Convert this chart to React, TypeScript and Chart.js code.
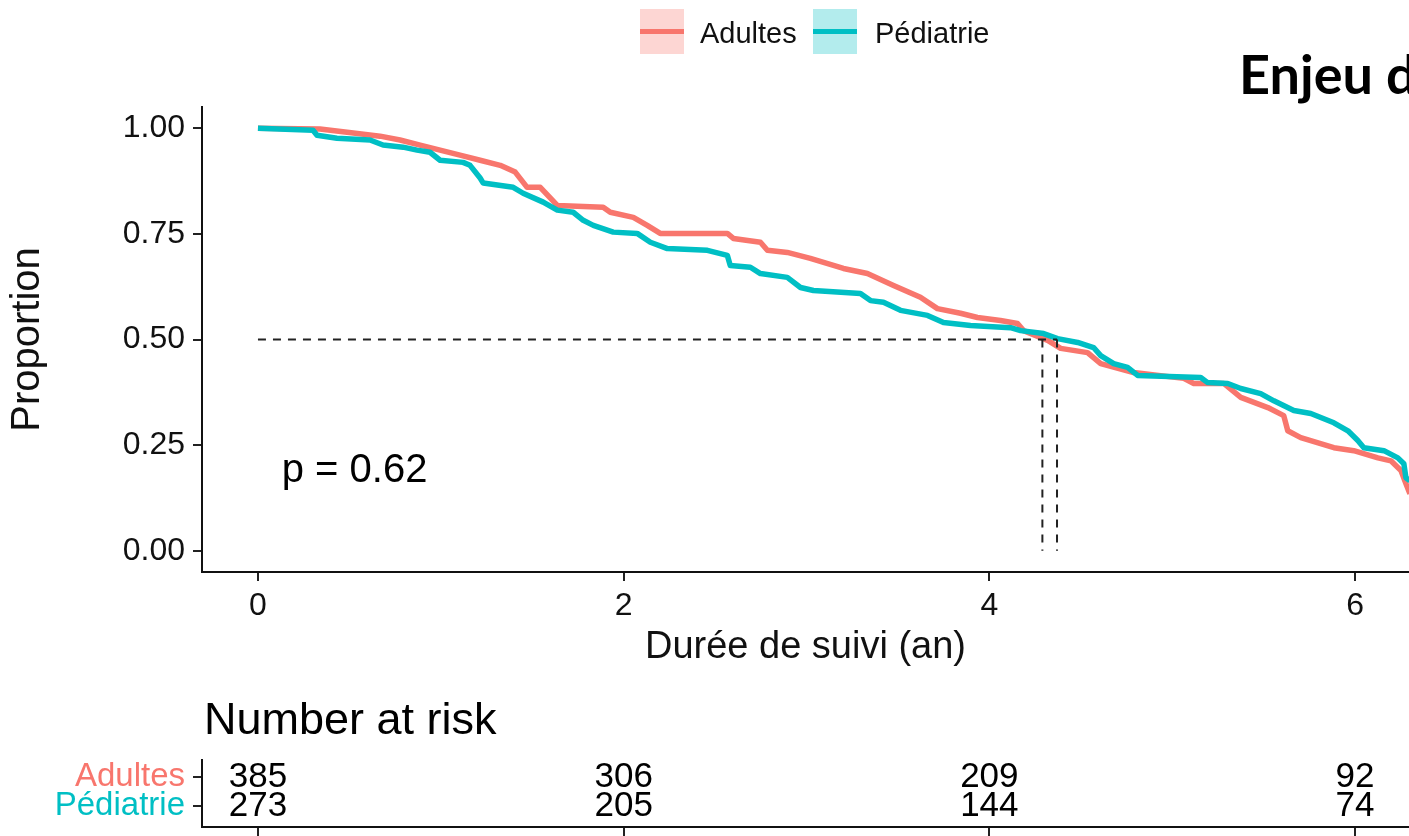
import React, { useEffect, useRef } from 'react';
import { Chart, registerables } from 'chart.js';

Chart.register(...registerables);

const FONT = '"Liberation Sans", Arial, Helvetica, sans-serif';
const RED = '#F8766D';
const TEAL = '#00BFC4';
const RED_KEY = '#FDD6D3';
const TEAL_KEY = '#B3ECED';

const groups = ['Adultes', 'Pédiatrie'];

const adultesTime = [0, 0.339, 0.476, 0.668, 0.777, 0.887, 0.996, 1.105, 1.215, 1.325, 1.407, 1.472, 1.544, 1.637, 1.888, 1.927, 2.053, 2.129, 2.2, 2.567, 2.6, 2.748, 2.786, 2.895, 3.021, 3.202, 3.333, 3.476, 3.623, 3.716, 3.842, 3.935, 4.061, 4.154, 4.187, 4.319, 4.39, 4.537, 4.609, 4.789, 5.063, 5.118, 5.282, 5.375, 5.523, 5.61, 5.632, 5.703, 5.884, 5.993, 6.125, 6.196, 6.251, 6.278, 6.3, 6.35];
const adultesSurv = [1.0, 0.998, 0.991, 0.981, 0.972, 0.96, 0.948, 0.936, 0.924, 0.912, 0.896, 0.86, 0.86, 0.817, 0.813, 0.801, 0.789, 0.77, 0.751, 0.751, 0.739, 0.73, 0.711, 0.706, 0.692, 0.668, 0.656, 0.628, 0.6, 0.573, 0.562, 0.552, 0.545, 0.538, 0.521, 0.498, 0.479, 0.469, 0.443, 0.422, 0.408, 0.396, 0.396, 0.363, 0.339, 0.32, 0.284, 0.268, 0.244, 0.237, 0.22, 0.213, 0.19, 0.159, 0.135, 0.12];

const pediatrieTime = [0, 0.301, 0.323, 0.432, 0.613, 0.684, 0.794, 0.87, 0.941, 0.996, 1.122, 1.16, 1.215, 1.232, 1.396, 1.45, 1.56, 1.637, 1.724, 1.779, 1.834, 1.943, 2.074, 2.146, 2.239, 2.458, 2.567, 2.583, 2.693, 2.748, 2.895, 2.967, 3.038, 3.295, 3.35, 3.421, 3.514, 3.662, 3.749, 3.897, 4.116, 4.171, 4.297, 4.373, 4.483, 4.57, 4.609, 4.68, 4.756, 4.811, 5.156, 5.194, 5.304, 5.375, 5.484, 5.556, 5.665, 5.758, 5.884, 5.961, 6.015, 6.048, 6.158, 6.234, 6.267, 6.278, 6.3, 6.35];
const pediatrieSurv = [1.0, 0.995, 0.983, 0.976, 0.972, 0.96, 0.955, 0.948, 0.943, 0.924, 0.919, 0.912, 0.882, 0.87, 0.86, 0.846, 0.825, 0.806, 0.801, 0.782, 0.77, 0.754, 0.751, 0.73, 0.715, 0.711, 0.699, 0.675, 0.671, 0.656, 0.647, 0.623, 0.616, 0.609, 0.592, 0.588, 0.569, 0.557, 0.54, 0.533, 0.528, 0.521, 0.514, 0.502, 0.493, 0.481, 0.462, 0.443, 0.434, 0.415, 0.41, 0.398, 0.396, 0.384, 0.372, 0.355, 0.332, 0.325, 0.303, 0.284, 0.261, 0.244, 0.237, 0.22, 0.206, 0.173, 0.166, 0.16];

const medianAdultes = 4.29;
const medianPediatrie = 4.37;
const medianLevel = 0.5;

const pValueLabel = 'p = 0.62';
const pValuePos = [0.13, 0.19];

const xTicks = [0, 2, 4, 6];
const yTicks = [0, 0.25, 0.5, 0.75, 1];
const xRange = [-0.306, 6.295];
const yRange = [-0.05, 1.05];

const riskTimes = [0, 2, 4, 6];
const riskAdultes = [385, 306, 209, 92];
const riskPediatrie = [273, 205, 144, 74];

const zip = (xs: number[], ys: number[]) => xs.map((x, i) => ({ x, y: ys[i] }));

const axisCommon = {
  grid: { drawOnChartArea: false, drawTicks: true, tickLength: 9, lineWidth: 2, color: '#222' },
  border: { display: true, color: '#111', width: 2 },
};

export default function App() {
  const mainRef = useRef<HTMLCanvasElement>(null);
  const riskRef = useRef<HTMLCanvasElement>(null);

  useEffect(() => {
    const pPlugin = {
      id: 'pvalue',
      afterDatasetsDraw(chart: any) {
        const { ctx, scales } = chart;
        ctx.save();
        ctx.font = `40px ${FONT}`;
        ctx.fillStyle = '#000';
        ctx.textAlign = 'left';
        ctx.textBaseline = 'middle';
        ctx.fillText(pValueLabel, scales.x.getPixelForValue(pValuePos[0]), scales.y.getPixelForValue(pValuePos[1]));
        ctx.restore();
      },
    };

    const dash = {
      borderColor: '#222',
      borderWidth: 2,
      borderDash: [8, 7],
      pointRadius: 0,
      fill: false,
    };

    const main = new Chart(mainRef.current!, {
      type: 'line',
      data: {
        datasets: [
          { ...dash, label: 'h', data: [{ x: 0, y: medianLevel }, { x: Math.max(medianAdultes, medianPediatrie), y: medianLevel }] },
          { ...dash, label: 'va', data: [{ x: medianAdultes, y: medianLevel }, { x: medianAdultes, y: 0 }] },
          { ...dash, label: 'vp', data: [{ x: medianPediatrie, y: medianLevel }, { x: medianPediatrie, y: 0 }] },
          { label: groups[1], data: zip(pediatrieTime, pediatrieSurv), borderColor: TEAL, borderWidth: 5.5, pointRadius: 0, tension: 0, borderJoinStyle: 'round' },
          { label: groups[0], data: zip(adultesTime, adultesSurv), borderColor: RED, borderWidth: 5.5, pointRadius: 0, tension: 0, borderJoinStyle: 'round' },
        ],
      },
      options: {
        animation: false,
        responsive: false,
        layout: { padding: { top: 107, left: 0, right: 0, bottom: 0 } },
        plugins: { legend: { display: false }, tooltip: { enabled: false } },
        scales: {
          x: {
            type: 'linear',
            min: xRange[0],
            max: xRange[1],
            ...axisCommon,
            afterBuildTicks: (s: any) => { s.ticks = xTicks.map((v) => ({ value: v })); },
            afterFit: (s: any) => { s.height = 108; s.paddingLeft = 0; s.paddingRight = 0; },
            ticks: { font: { family: FONT, size: 32 }, color: '#111', padding: 6, maxRotation: 0, autoSkip: false, callback: (v: any) => String(v) },
            title: { display: true, text: 'Durée de suivi (an)', color: '#111', font: { family: FONT, size: 38, lineHeight: 1 }, padding: { top: 0, bottom: 13 } },
          },
          y: {
            type: 'linear',
            min: yRange[0],
            max: yRange[1],
            ...axisCommon,
            afterBuildTicks: (s: any) => { s.ticks = yTicks.map((v) => ({ value: v })); },
            afterFit: (s: any) => { s.width = 202; s.paddingTop = 0; s.paddingBottom = 0; },
            ticks: { font: { family: FONT, size: 32 }, color: '#111', padding: 8, callback: (v: any) => Number(v).toFixed(2) },
            title: { display: true, text: 'Proportion', color: '#111', font: { family: FONT, size: 40, lineHeight: 1 }, padding: { top: 8, bottom: 0 } },
          },
        },
      },
      plugins: [pPlugin],
    } as any);

    const riskPlugin = {
      id: 'riskNumbers',
      afterDraw(chart: any) {
        const { ctx, scales } = chart;
        ctx.save();
        ctx.font = `35px ${FONT}`;
        ctx.fillStyle = '#000';
        ctx.textAlign = 'center';
        ctx.textBaseline = 'middle';
        [riskAdultes, riskPediatrie].forEach((row, i) => {
          row.forEach((n, j) => {
            ctx.fillText(String(n), scales.x.getPixelForValue(riskTimes[j]), scales.y.getPixelForValue(i));
          });
        });
        ctx.restore();
      },
    };

    const risk = new Chart(riskRef.current!, {
      type: 'scatter',
      data: { datasets: [{ data: [] }] },
      options: {
        animation: false,
        responsive: false,
        layout: { padding: { top: 20, left: 0, right: 0, bottom: 0 } },
        plugins: { legend: { display: false }, tooltip: { enabled: false } },
        scales: {
          x: {
            type: 'linear',
            min: xRange[0],
            max: xRange[1],
            ...axisCommon,
            afterBuildTicks: (s: any) => { s.ticks = riskTimes.map((v) => ({ value: v })); },
            afterFit: (s: any) => { s.height = 9; s.paddingLeft = 0; s.paddingRight = 0; },
            ticks: { display: false },
          },
          y: {
            type: 'linear',
            reverse: true,
            min: -0.586,
            max: 1.724,
            ...axisCommon,
            afterBuildTicks: (s: any) => { s.ticks = [0, 1].map((v) => ({ value: v })); },
            afterFit: (s: any) => { s.width = 202; s.paddingTop = 0; s.paddingBottom = 0; },
            ticks: {
              font: { family: FONT, size: 33 },
              padding: 8,
              color: (c: any) => (c.index === 0 ? RED : TEAL),
              callback: (v: any) => groups[Number(v)],
            },
          },
        },
      },
      plugins: [riskPlugin],
    } as any);

    return () => {
      main.destroy();
      risk.destroy();
    };
  }, []);

  const keyBox = (bg: string, line: string, left: number) => (
    <div style={{ position: 'absolute', left, top: 9, width: 44, height: 45, background: bg }}>
      <div style={{ position: 'absolute', left: 0, right: 0, top: 20, height: 5, background: line }} />
    </div>
  );

  return (
    <div style={{ position: 'absolute', left: 0, top: 0, width: 1409, height: 836, overflow: 'hidden', background: '#fff', fontFamily: FONT }}>
      <canvas ref={mainRef} width={1409} height={680} style={{ position: 'absolute', left: 0, top: 0, display: 'block' }} />
      <canvas ref={riskRef} width={1409} height={96} style={{ position: 'absolute', left: 0, top: 740, display: 'block' }} />
      {keyBox(RED_KEY, RED, 640)}
      <div style={{ position: 'absolute', left: 700, top: 15, fontSize: 29, lineHeight: '36px', color: '#111', whiteSpace: 'nowrap' }}>{groups[0]}</div>
      {keyBox(TEAL_KEY, TEAL, 813)}
      <div style={{ position: 'absolute', left: 875, top: 15, fontSize: 29, lineHeight: '36px', color: '#111', whiteSpace: 'nowrap' }}>{groups[1]}</div>
      <div style={{ position: 'absolute', left: 1239, top: 47, fontFamily: 'Lato, "Open Sans", sans-serif', fontWeight: 700, fontSize: 54, lineHeight: '54px', color: '#000', whiteSpace: 'nowrap' }}>Enjeu de la transition</div>
      <div style={{ position: 'absolute', left: 204, top: 696, fontSize: 45, lineHeight: '45px', color: '#000', whiteSpace: 'nowrap' }}>Number at risk</div>
    </div>
  );
}
